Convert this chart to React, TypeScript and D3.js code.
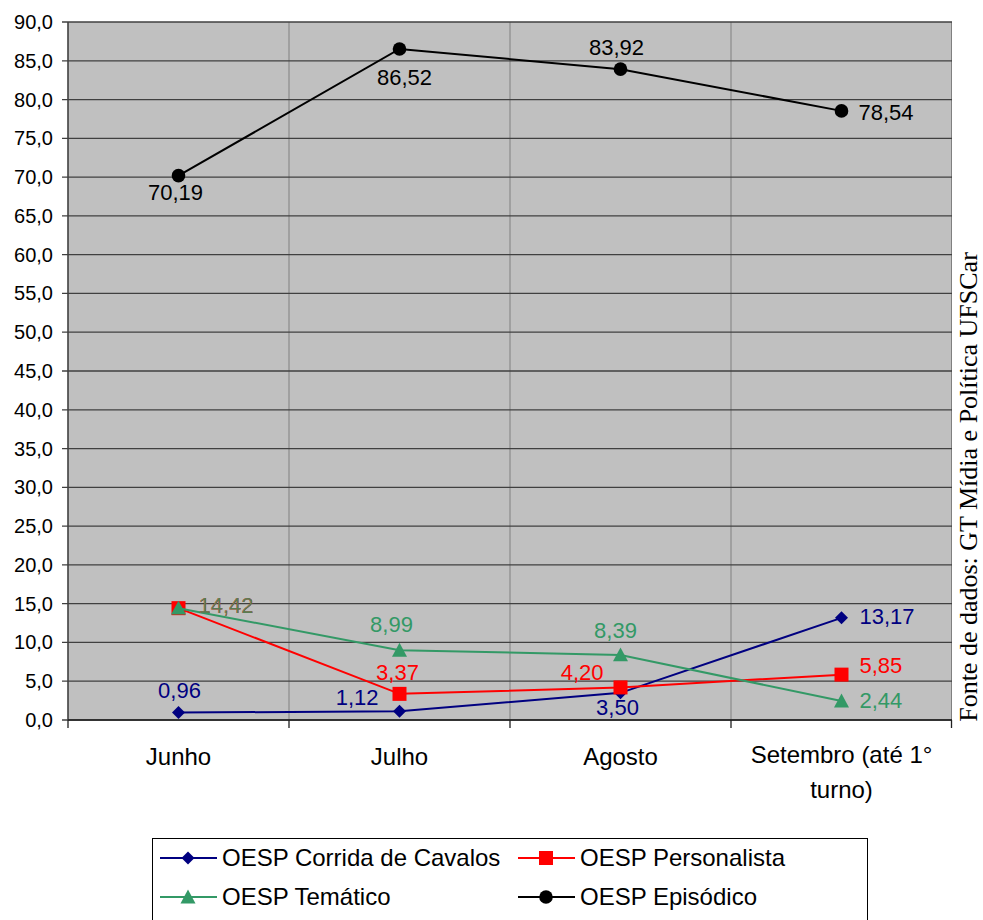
import React from "react";
import * as d3 from "d3";

const categories = ["Junho", "Julho", "Agosto", "Setembro (até 1° turno)"];
const categoryLines = [["Junho"], ["Julho"], ["Agosto"], ["Setembro (até 1°", "turno)"]];
const corrida = [0.96, 1.12, 3.5, 13.17];
const personalista = [14.42, 3.37, 4.2, 5.85];
const tematico = [14.42, 8.99, 8.39, 2.44];
const episodico = [70.19, 86.52, 83.92, 78.54];
const yTicks = d3.range(0, 90.01, 5);

// Label placement per point: [anchor, dx, dy] relative to the marker
type Place = [string, number, number];

const series = [
  {
    name: "OESP Corrida de Cavalos",
    values: corrida,
    color: "#000080",
    marker: "diamond",
    place: [["middle", 1, -15], ["end", -21, -6], ["middle", -3, 22], ["start", 18, 6]] as Place[],
  },
  {
    name: "OESP Personalista",
    values: personalista,
    color: "#FF0000",
    marker: "square",
    place: [["start", 20, 5], ["middle", -2, -14], ["end", -17, -7], ["start", 18, -2]] as Place[],
  },
  {
    name: "OESP Temático",
    values: tematico,
    color: "#339966",
    marker: "triangle",
    place: [["start", 20, 5], ["middle", -8, -18], ["middle", -5, -17], ["start", 18, 7]] as Place[],
  },
  {
    name: "OESP Episódico",
    values: episodico,
    color: "#000000",
    marker: "circle",
    place: [["middle", -3, 24], ["middle", 5, 36], ["middle", -4, -14], ["start", 17, 9]] as Place[],
  },
];

const W = 983;
const H = 920;
const plot = { left: 68, right: 952, top: 22, bottom: 720 };
const FONT = "'Liberation Sans', Arial, sans-serif";

const fmt = (v: number) => v.toFixed(2).replace(".", ",");

function Marker({ kind, x, y, color }: { kind: string; x: number; y: number; color: string }) {
  if (kind === "diamond") {
    const s = 6.5;
    return <path d={`M${x},${y - s}L${x + s},${y}L${x},${y + s}L${x - s},${y}Z`} fill={color} />;
  }
  if (kind === "square") {
    const s = 7;
    return <rect x={x - s} y={y - s} width={2 * s} height={2 * s} fill={color} />;
  }
  if (kind === "triangle") {
    const s = 7.5;
    return <path d={`M${x},${y - s}L${x + s},${y + s * 0.85}L${x - s},${y + s * 0.85}Z`} fill={color} />;
  }
  return <circle cx={x} cy={y} r={6.8} fill={color} />;
}

export default function App() {
  const x = d3.scaleBand<string>().domain(categories).range([plot.left, plot.right]);
  const y = d3.scaleLinear().domain([0, 90]).range([plot.bottom, plot.top]);
  const cx = (c: string) => (x(c) as number) + x.bandwidth() / 2;
  const line = d3
    .line<number>()
    .x((_, i) => cx(categories[i]))
    .y((v) => y(v));

  const boundaries = categories.slice(1).map((c) => x(c) as number);

  return (
    <svg width={W} height={H} style={{ position: "absolute", left: 0, top: 0 }} fontFamily={FONT}>
      <rect x={0} y={0} width={W} height={H} fill="#ffffff" />
      {/* plot area */}
      <rect x={plot.left} y={plot.top} width={plot.right - plot.left} height={plot.bottom - plot.top} fill="#C0C0C0" />
      {boundaries.map((bx, i) => (
        <line key={"v" + i} x1={bx} x2={bx} y1={plot.top} y2={plot.bottom} stroke="#808080" strokeWidth={1} />
      ))}
      <line x1={plot.right - 0.5} x2={plot.right - 0.5} y1={plot.top} y2={plot.bottom} stroke="#808080" strokeWidth={1} />
      {yTicks.map((t) => (
        <g key={"y" + t}>
          <line x1={plot.left - 6} x2={plot.right} y1={y(t)} y2={y(t)} stroke="#404040" strokeWidth={1.3} />
          <text x={53} y={y(t) + 7} textAnchor="end" fontSize={20} fill="#000">
            {t.toFixed(1).replace(".", ",")}
          </text>
        </g>
      ))}
      {/* axes */}
      <line x1={plot.left} x2={plot.left} y1={plot.top} y2={plot.bottom} stroke="#404040" strokeWidth={1.6} />
      <line x1={plot.left} x2={plot.right} y1={plot.bottom} y2={plot.bottom} stroke="#202020" strokeWidth={1.6} />
      {[plot.left, ...boundaries, plot.right - 0.5].map((bx, i) => (
        <line key={"xt" + i} x1={bx} x2={bx} y1={plot.bottom} y2={plot.bottom + 8} stroke="#202020" strokeWidth={1.3} />
      ))}
      {categories.map((c, i) => (
        <text key={c} x={cx(c)} textAnchor="middle" fontSize={24} fill="#000">
          {categoryLines[i].map((ln, j) => (
            <tspan key={j} x={cx(c)} y={(categoryLines[i].length > 1 ? 763 : 765) + j * 35}>
              {ln}
            </tspan>
          ))}
        </text>
      ))}
      {/* series */}
      {series.map((s) => (
        <g key={s.name}>
          <path d={line(s.values) as string} fill="none" stroke={s.color} strokeWidth={2} />
          {s.values.map((v, i) => (
            <Marker key={i} kind={s.marker} x={cx(categories[i])} y={y(v)} color={s.color} />
          ))}
        </g>
      ))}
      {series.map((s) => (
        <g key={s.name + "l"}>
          {s.values.map((v, i) => {
            const [anchor, dx, dy] = s.place[i];
            return (
              <text
                key={i}
                x={cx(categories[i]) + dx}
                y={y(v) + dy}
                textAnchor={anchor as any}
                fontSize={22}
                fill={s.color}
                fillOpacity={s.marker === "triangle" && i === 0 ? 0.82 : 1}
              >
                {fmt(v)}
              </text>
            );
          })}
        </g>
      ))}
      {/* source note */}
      <text
        transform={`translate(977, 487) rotate(-90)`}
        textAnchor="middle"
        fontSize={26}
        fontFamily="'Liberation Serif', 'Times New Roman', serif"
        fill="#000"
      >
        Fonte de dados: GT Mídia e Política UFSCar
      </text>
      {/* legend */}
      <rect x={152.5} y={838.5} width={715} height={90} fill="#fff" stroke="#000" strokeWidth={1} />
      {series.map((s, i) => {
        const col = i % 2;
        const row = Math.floor(i / 2);
        const lx = col === 0 ? 160 : 518;
        const ly = row === 0 ? 858 : 897;
        return (
          <g key={s.name + "leg"}>
            <line x1={lx} x2={lx + 57} y1={ly} y2={ly} stroke={s.color} strokeWidth={2} />
            <Marker kind={s.marker} x={lx + 28} y={ly} color={s.color} />
            <text x={lx + 62} y={ly + 8} fontSize={24} fill="#000">
              {s.name}
            </text>
          </g>
        );
      })}
    </svg>
  );
}
